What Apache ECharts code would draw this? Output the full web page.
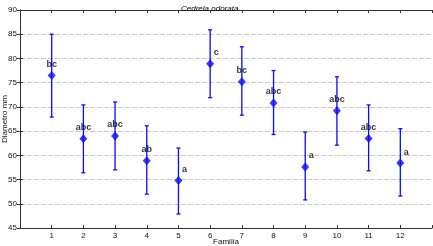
<!DOCTYPE html>
<html>
<head>
<meta charset="utf-8">
<script src="https://cdn.jsdelivr.net/npm/echarts@6/dist/echarts.min.js"></script>
<style>
  html, body { margin: 0; padding: 0; background: #fff; }
  #main { width: 433px; height: 246px; }
</style>
</head>
<body>
<div id="main"></div>
<script>
// Familia 1..12, mean diameter with upper / lower bar ends
var familias = [1, 2, 3, 4, 5, 6, 7, 8, 9, 10, 11, 12];
var medias   = [76.5, 63.4, 64.0, 58.9, 54.8, 78.9, 75.2, 70.8, 57.6, 69.2, 63.5, 58.4];
var superior = [85.0, 70.4, 71.0, 66.1, 61.5, 85.9, 82.4, 77.5, 64.8, 76.2, 70.4, 65.5];
var inferior = [67.9, 56.4, 57.0, 52.0, 47.9, 71.9, 68.3, 64.3, 50.8, 62.1, 56.8, 51.6];
var letras   = ['bc', 'abc', 'abc', 'ab', 'a', 'c', 'bc', 'abc', 'a', 'abc', 'abc', 'a'];
var yTicks   = [45, 50, 55, 60, 65, 70, 75, 80, 85, 90];

var azul = '#0a0aff';
var fuente = 'Arial, "Liberation Sans", sans-serif';

var myChart = echarts.init(document.getElementById('main'));

var barras = familias.map(function (f, i) {
    return [f, inferior[i], superior[i]];
});
var puntos = familias.map(function (f, i) {
    return {
        value: [f, medias[i]],
        label: {
            formatter: letras[i],
            offset: letras[i].length == 1 ? [6, 0] : [0, 0]
        }
    };
});

var option = {
    animation: false,
    title: {
        text: 'Cedrela odorata',
        left: 176,
        top: 0,
        textStyle: {
            fontSize: 8,
            fontStyle: 'italic',
            fontWeight: 'normal',
            fontFamily: fuente,
            color: '#000'
        }
    },
    grid: {
        left: 20,
        right: 1,
        top: 10,
        bottom: 18,
        containLabel: false,
        outerBoundsMode: 'none'
    },
    xAxis: [{
        type: 'value',
        min: 0,
        max: 13,
        interval: 1,
        name: 'Familia',
        nameLocation: 'middle',
        nameGap: 10,
        nameMoveOverlap: false,
        nameTextStyle: { fontSize: 8, fontFamily: fuente, color: '#111' },
        axisLine: { lineStyle: { color: '#333', width: 1 } },
        axisTick: { inside: true, length: 3, lineStyle: { color: '#333' } },
        axisLabel: {
            fontSize: 8,
            fontFamily: fuente,
            color: '#111',
            margin: 4,
            formatter: function (v) {
                return (v >= 1 && v <= 12) ? v : '';
            }
        },
        splitLine: { show: false }
    }, {
        type: 'value',
        position: 'top',
        min: 0,
        max: 13,
        interval: 1,
        axisLine: { show: true, lineStyle: { color: '#333', width: 1 } },
        axisTick: { inside: true, length: 3, lineStyle: { color: '#333' } },
        axisLabel: { show: false },
        splitLine: { show: false }
    }],
    yAxis: [{
        type: 'value',
        min: yTicks[0],
        max: yTicks[yTicks.length - 1],
        interval: 5,
        name: 'Diametro mm',
        nameLocation: 'middle',
        nameGap: 11,
        nameMoveOverlap: false,
        nameTextStyle: { fontSize: 8, fontFamily: fuente, color: '#111' },
        axisLine: { show: true, lineStyle: { color: '#333', width: 1 } },
        axisTick: { show: true, inside: true, length: 3, lineStyle: { color: '#333' } },
        axisLabel: { fontSize: 8, fontFamily: fuente, color: '#111', margin: 3 },
        splitLine: {
            show: true,
            lineStyle: { color: '#c8c8c8', type: [5, 2], width: 1 }
        }
    }, {
        type: 'value',
        position: 'right',
        min: yTicks[0],
        max: yTicks[yTicks.length - 1],
        interval: 5,
        axisLine: { show: true, lineStyle: { color: '#333', width: 1 } },
        axisTick: { show: true, inside: true, length: 3, lineStyle: { color: '#333' } },
        axisLabel: { show: false },
        splitLine: { show: false }
    }],
    series: [{
        type: 'custom',
        xAxisIndex: 0,
        yAxisIndex: 0,
        data: barras,
        renderItem: function (params, api) {
            var x = api.value(0);
            var lo = api.coord([x, api.value(1)]);
            var hi = api.coord([x, api.value(2)]);
            var c = 2;
            var st = { stroke: azul, lineWidth: 1.3 };
            return {
                type: 'group',
                children: [
                    { type: 'line', shape: { x1: lo[0], y1: lo[1], x2: hi[0], y2: hi[1] }, style: st },
                    { type: 'line', shape: { x1: lo[0] - c, y1: lo[1], x2: lo[0] + c, y2: lo[1] }, style: st },
                    { type: 'line', shape: { x1: hi[0] - c, y1: hi[1], x2: hi[0] + c, y2: hi[1] }, style: st }
                ]
            };
        },
        z: 2
    }, {
        type: 'scatter',
        xAxisIndex: 0,
        yAxisIndex: 0,
        symbol: 'diamond',
        symbolSize: [8, 9],
        itemStyle: { color: azul },
        data: puntos,
        label: {
            show: true,
            position: 'top',
            distance: 2,
            fontSize: 9,
            fontWeight: 'bold',
            fontFamily: fuente,
            color: '#000'
        },
        z: 3
    }]
};
myChart.setOption(option);
</script>
</body>
</html>
